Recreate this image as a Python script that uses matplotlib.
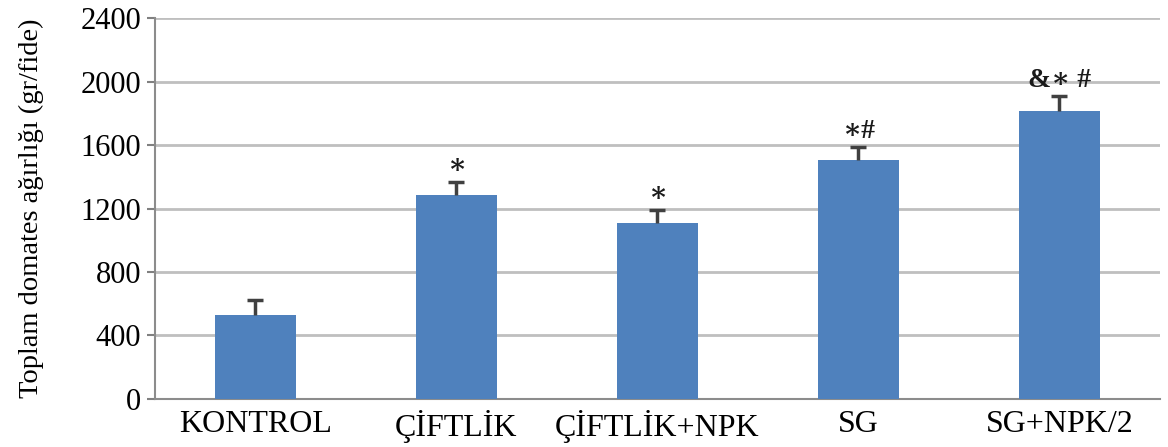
import matplotlib.pyplot as plt
import numpy as np

# grup ortalamalari ve standart hatalar
groups = ['KONTROL', 'ÇİFTLİK', 'ÇİFTLİK+NPK', 'SG', 'SG+NPK/2']
means = [530, 1285, 1109, 1505, 1814]
errors = [95, 82, 82, 82, 95]
marks = ['', '∗', '∗', '∗#', '&∗ #']
yticks = [0, 400, 800, 1200, 1600, 2000, 2400]

plt.rcParams['font.family'] = ['Liberation Serif', 'DejaVu Serif']

fig = plt.figure(figsize=(11.68, 4.47), dpi=100)
ax = fig.add_axes([0.1327, 0.1074, 0.8603, 0.8523])

x = np.arange(len(groups))
ax.bar(x, means, width=0.4, color='#4f81bd', zorder=3)
line, caps, bars = ax.errorbar(x, means, yerr=[np.zeros(len(errors)), errors],
                               fmt='none', ecolor='#404040', elinewidth=2.5,
                               capsize=5.5, capthick=2.5, zorder=4)
caps[0].set_visible(False)  # sadece ust cizgi

# anlamlilik isaretleri
for xi, m, e, s in zip(x, means, errors, marks):
    if s:
        ax.text(xi, m + e + 100, s, ha='center', va='center', fontsize=20,
                fontweight='bold', color='#1a1a1a')

ax.set_ylim(0, 2400)
ax.set_xlim(-0.5, len(groups) - 0.5)
ax.set_yticks(yticks)
ax.set_xticks(x)
ax.set_xticklabels(groups, fontsize=23)
ax.tick_params(axis='y', labelsize=22, length=6, width=1.5, color='#808080', pad=4)
ax.tick_params(axis='x', length=0, pad=8)
ax.set_ylabel('Toplam domates ağırlığı (gr/fide)', fontsize=20.5, labelpad=26)

ax.grid(axis='y', color='#bfbfbf', linewidth=2, zorder=0)
for side in ['top', 'right']:
    ax.spines[side].set_visible(False)
for side in ['left', 'bottom']:
    ax.spines[side].set_color('#8c8c8c')
    ax.spines[side].set_linewidth(1.5)

fig.savefig('out.png', dpi=100)
